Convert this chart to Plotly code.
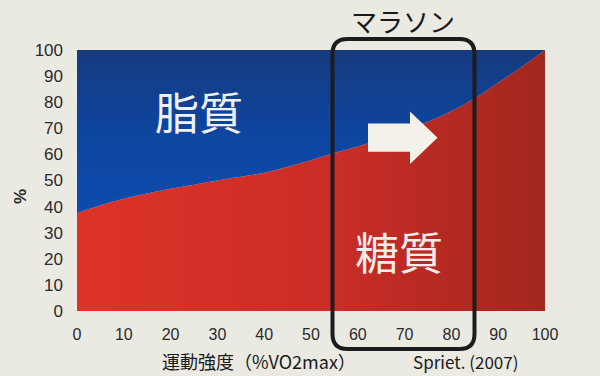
import plotly.graph_objects as go

# intensity (%VO2max)
intensity = [0, 5, 10, 15, 20, 25, 30, 35, 40, 45, 50, 55, 60, 65, 70, 75, 80, 85, 90, 95, 100]
# carbohydrate share (%)
carbs = [37.5, 40.5, 43, 45, 46.8, 48.4, 50, 51.4, 53, 55.3, 57.8, 60.5, 63, 65.8, 69, 72.5, 76.5, 81.5, 87.5, 93.5, 100]
# fat share (%)
fat = [62.5, 59.5, 57, 55, 53.2, 51.6, 50, 48.6, 47, 44.7, 42.2, 39.5, 37, 34.2, 31, 27.5, 23.5, 18.5, 12.5, 6.5, 0]

x_ticks = [0, 10, 20, 30, 40, 50, 60, 70, 80, 90, 100]
y_ticks = [0, 10, 20, 30, 40, 50, 60, 70, 80, 90, 100]

top = [c + f for c, f in zip(carbs, fat)]

W, H = 600, 376
ML, MR, MT, MB = 77, 55, 50, 65
PW, PH = W - ML - MR, H - MT - MB

def px(xp):
    return (xp - ML) / PW

def py(yp):
    return (H - MB - yp) / PH

fig = go.Figure()
fig.add_trace(go.Scatter(
    x=intensity, y=carbs, mode="none", fill="tozeroy", line_shape="spline",
    fillgradient=dict(type="horizontal",
                      colorscale=[[0, "#df3329"], [0.55, "#c92d26"], [1, "#a2271f"]]),
    hoverinfo="skip", showlegend=False,
))
fig.add_trace(go.Scatter(
    x=intensity, y=top, mode="none", fill="tonexty", line_shape="spline",
    fillgradient=dict(type="vertical",
                      colorscale=[[0, "#0c4cae"], [0.5, "#0e459f"], [1, "#163a7e"]]),
    hoverinfo="skip", showlegend=False,
))

# rounded box (paper coords)
L, R, T, B = px(332.5), px(474.5), py(39), py(349)
rx, ry = 15 / PW, 15 / PH
box = (f"M {L+rx},{T} L {R-rx},{T} Q {R},{T} {R},{T-ry} L {R},{B+ry} Q {R},{B} {R-rx},{B} "
       f"L {L+rx},{B} Q {L},{B} {L},{B+ry} L {L},{T-ry} Q {L},{T} {L+rx},{T} Z")

def dx(xp):
    return (xp - ML) / PW * 100

def dy(yp):
    return (H - MB - yp) / PH * 100

arrow = (f"M {dx(368)},{dy(123.5)} L {dx(410)},{dy(123.5)} L {dx(410)},{dy(111.5)} "
         f"L {dx(437.5)},{dy(137.8)} L {dx(410)},{dy(164)} L {dx(410)},{dy(151.8)} "
         f"L {dx(368)},{dy(151.8)} Z")

fig.update_layout(
    width=W, height=H,
    margin=dict(l=ML, r=MR, t=MT, b=MB),
    paper_bgcolor="#eae9e2",
    plot_bgcolor="#eae9e2",
    xaxis=dict(range=[0, 100], tickvals=x_ticks, showgrid=False, zeroline=False,
               showline=False, ticks="", ticklabelstandoff=12,
               tickfont=dict(family="Liberation Sans, Arial", size=16, color="#2a2a2a")),
    yaxis=dict(range=[0, 100], tickvals=y_ticks, showgrid=False, zeroline=False,
               showline=False, ticks="", ticklabelstandoff=13,
               tickfont=dict(family="Liberation Sans, Arial", size=17, color="#2a2a2a")),
    shapes=[
        dict(type="path", path=arrow, xref="x", yref="y", fillcolor="#f3f1ea",
             line=dict(width=0), layer="above"),
        dict(type="path", path=box, xref="paper", yref="paper",
             line=dict(color="#1d1b1b", width=4), layer="above"),
    ],
    annotations=[
        dict(text="マラソン", x=px(403), y=py(21), xref="paper", yref="paper",
             showarrow=False, xanchor="center", yanchor="middle",
             font=dict(family="Noto Sans CJK JP", size=26, color="#1a1a1a")),
        dict(text="脂質", x=px(199), y=py(111), xref="paper", yref="paper",
             showarrow=False, xanchor="center", yanchor="middle",
             font=dict(family="Noto Sans CJK JP", size=44, color="#eef0f2")),
        dict(text="糖質", x=px(399), y=py(251), xref="paper", yref="paper",
             showarrow=False, xanchor="center", yanchor="middle",
             font=dict(family="Noto Sans CJK JP", size=44, color="#f4ece8")),
        dict(text="<b>%</b>", x=px(20), y=py(197), xref="paper", yref="paper",
             showarrow=False, xanchor="center", yanchor="middle", textangle=-90,
             font=dict(family="Liberation Sans, Arial", size=17, color="#2a2a2a")),
        dict(text="運動強度（%VO2max）", x=px(259), y=py(361), xref="paper", yref="paper",
             showarrow=False, xanchor="center", yanchor="middle",
             font=dict(family="Noto Sans CJK JP", size=18, color="#1a1a1a")),
        dict(text="Spriet. (2007)", x=px(465), y=py(361), xref="paper", yref="paper",
             showarrow=False, xanchor="center", yanchor="middle",
             font=dict(family="Noto Sans CJK JP", size=17, color="#1a1a1a")),
    ],
)

fig.write_html("out.html")
